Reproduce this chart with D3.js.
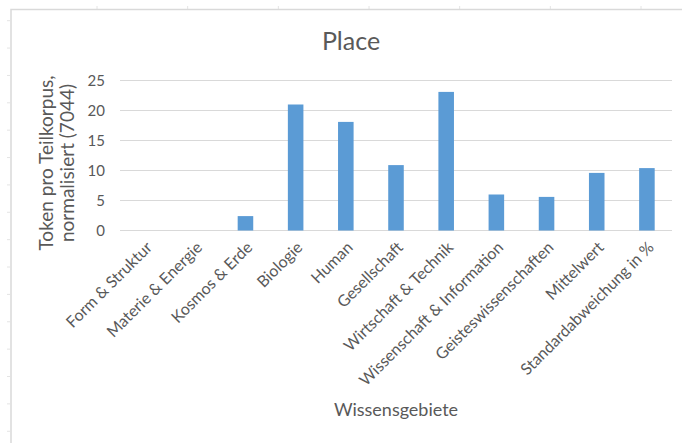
<!DOCTYPE html>
<html>
<head>
<meta charset="utf-8">
<script src="https://cdn.jsdelivr.net/npm/d3@7"></script>
<style>
  html, body { margin: 0; padding: 0; background: #fff; }
  svg { display: block; font-family: Lato, "Open Sans", sans-serif; }
</style>
</head>
<body>
<svg id="chart" width="682" height="443"></svg>
<script>
// Token counts per sub-corpus (normalised to 7044), by knowledge domain
const categories = [
  "Form & Struktur", "Materie & Energie", "Kosmos & Erde", "Biologie", "Human",
  "Gesellschaft", "Wirtschaft & Technik", "Wissenschaft & Information",
  "Geisteswissenschaften", "Mittelwert", "Standardabweichung in %"
];
const values = [0, 0, 2.4, 21.0, 18.1, 10.9, 23.1, 6.0, 5.6, 9.6, 10.4];
const yTicks = [0, 5, 10, 15, 20, 25];
const chartTitle = "Place";
const yTitleLines = ["Token pro Teilkorpus,", "normalisiert (7044)"];
const xTitle = "Wissensgebiete";

// spreadsheet cell marks around the chart frame
const sheetRows = d3.range(16).map(i => 20.7 + i * 27.37);
const sheetCols = d3.range(7).map(i => 97 + i * 90.67);

const svg = d3.select("#chart");
const W = 682, H = 443;
const m = { left: 120, right: 10, top: 80.5, bottom: 212.5 };

const textCol = "#595959";
const gridCol = "#d9d9d9";
const barCol = "#5b9bd5";

// background cell marks
svg.append("g").selectAll("line").data(sheetRows).join("line")
  .attr("x1", 7).attr("x2", 10).attr("y1", d => d).attr("y2", d => d)
  .attr("stroke", "#e4e4e4").attr("stroke-width", 1);
svg.append("g").selectAll("line").data(sheetCols).join("line")
  .attr("x1", d => d).attr("x2", d => d).attr("y1", 6).attr("y2", 9)
  .attr("stroke", "#e4e4e4").attr("stroke-width", 1);

// chart area frame
svg.append("path")
  .attr("d", `M11,${H + 2}V9.5H${W + 2}`)
  .attr("fill", "none").attr("stroke", gridCol).attr("stroke-width", 1.5);

const x = d3.scaleBand().domain(categories)
  .range([m.left, W - m.right]).paddingInner(0.69).paddingOuter(0.345);
const y = d3.scaleLinear().domain([0, 25]).range([H - m.bottom, m.top]);

// horizontal gridlines + axis line
svg.append("g").selectAll("line").data(yTicks).join("line")
  .attr("x1", m.left).attr("x2", W - m.right)
  .attr("y1", d => y(d)).attr("y2", d => y(d))
  .attr("stroke", gridCol).attr("stroke-width", 1);

// y tick labels
const yAxis = d3.axisLeft(y).tickValues(yTicks).tickSize(0).tickPadding(15);
const gy = svg.append("g").attr("transform", `translate(${m.left},0)`).call(yAxis);
gy.select(".domain").remove();
gy.selectAll("text").attr("fill", textCol).style("font-size", "15px")
  .style("font-family", "Lato, 'Open Sans', sans-serif");

// bars
svg.append("g").selectAll("rect").data(values).join("rect")
  .attr("x", (d, i) => x(categories[i]))
  .attr("width", x.bandwidth())
  .attr("y", d => y(d))
  .attr("height", d => y(0) - y(d))
  .attr("fill", barCol);

// x tick labels, rotated
const xAxis = d3.axisBottom(x).tickSize(0);
const gx = svg.append("g").attr("transform", `translate(0,${y(0)})`).call(xAxis);
gx.select(".domain").remove();
gx.selectAll("text")
  .attr("fill", textCol)
  .style("font-size", "16px")
  .style("font-family", "Lato, 'Open Sans', sans-serif")
  .attr("text-anchor", "end")
  .attr("x", 0).attr("y", 0).attr("dy", "0.35em")
  .attr("transform", "translate(4,14) rotate(-45)");

// title
svg.append("text").attr("x", 351).attr("y", 50)
  .attr("text-anchor", "middle").attr("fill", textCol)
  .style("font-size", "25px").text(chartTitle);

// y axis title
const yt = svg.append("text").attr("fill", textCol).style("font-size", "19px")
  .attr("text-anchor", "middle")
  .attr("transform", "translate(53,163) rotate(-90)");
yTitleLines.forEach((t, i) => {
  yt.append("tspan").attr("x", 0).attr("dy", i === 0 ? 0 : 21).text(t);
});

// x axis title
svg.append("text").attr("x", (m.left + W - m.right) / 2).attr("y", 416)
  .attr("text-anchor", "middle").attr("fill", textCol)
  .style("font-size", "18px").text(xTitle);
</script>
</body>
</html>
